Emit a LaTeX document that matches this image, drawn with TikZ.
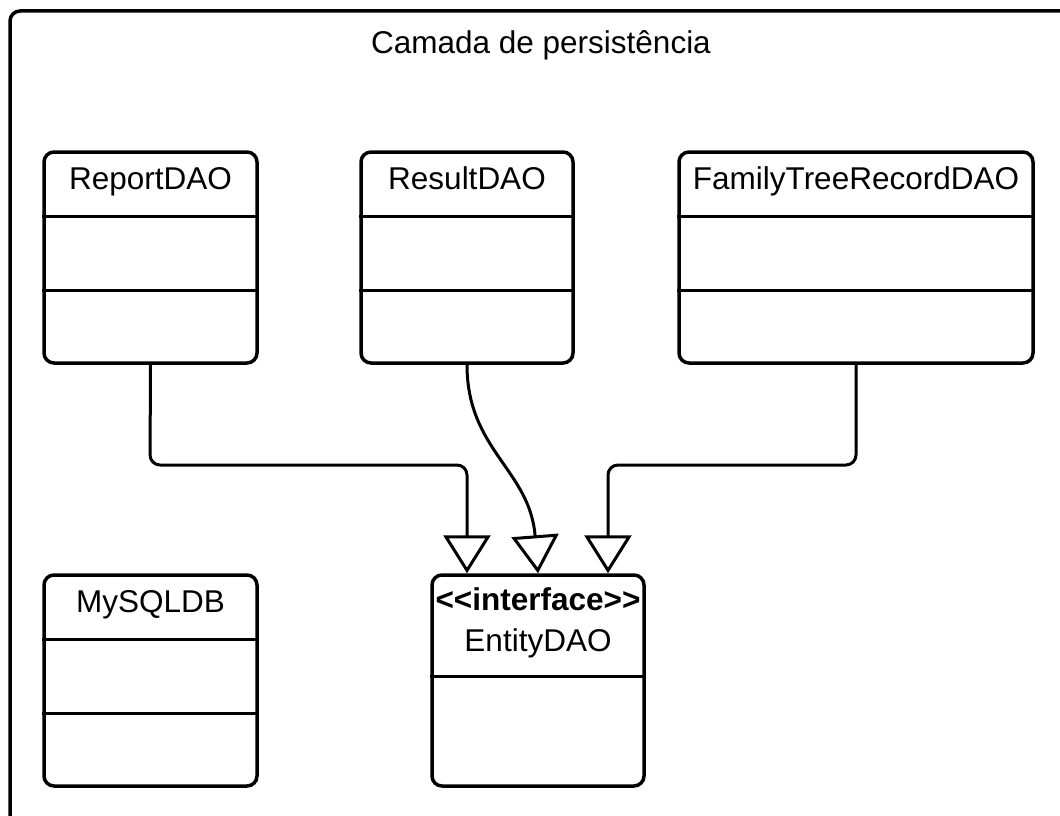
\documentclass[tikz,border=0pt]{standalone}
\usepackage{fontspec}
\setmainfont{Liberation Sans}
\usetikzlibrary{arrows.meta}
\begin{document}
\begin{tikzpicture}[x=1pt,y=-1pt,
  umlbox/.style={draw, line width=3.5pt, rounded corners=10pt, inner sep=0pt,
    minimum height=211pt},
  divider/.style={line width=3.5pt},
  conn/.style={line width=3pt,
    -{Triangle[open, length=38pt, width=47pt, line width=3pt]}},
  lbl/.style={anchor=base, inner sep=0pt, font=\fontsize{31.5}{36}\selectfont}
]
\useasboundingbox (0,0) rectangle (1060,816);
\begin{scope}
  \clip (0,0) rectangle (1060,816);
  % outer frame of the layer
  \draw[line width=3.5pt, rounded corners=10pt] (10,860) -- (10,11) -- (1100,11);
\end{scope}
\node[lbl] (title) at (541,54) {Camada de persistência};

% classes
\node[umlbox, minimum width=213pt] (rep) at (150.5,257.5) {};
\node[umlbox, minimum width=212pt] (res) at (467,257.5) {};
\node[umlbox, minimum width=354pt] (fam) at (856,257.5) {};
\node[umlbox, minimum width=213pt] (sql) at (150.5,680.5) {};
\node[umlbox, minimum width=212pt] (ent) at (538,680.5) {};

% class names
\node[lbl] (repname) at ([yshift=-39pt]rep.north) {ReportDAO};
\node[lbl] (resname) at ([yshift=-39pt]res.north) {ResultDAO};
\node[lbl] (famname) at ([yshift=-39pt]fam.north) {FamilyTreeRecordDAO};
\node[lbl] (sqlname) at ([yshift=-39pt]sql.north) {MySQLDB};
\node[lbl, font=\fontsize{31.5}{36}\selectfont\bfseries] (stereo) at ([yshift=-37pt]ent.north) {<{}<interface>{}>};
\node[lbl] (entname) at ([yshift=-78pt]ent.north) {EntityDAO};

% compartment lines
\foreach \b in {rep,res,fam,sql}{
  \draw[divider] ([yshift=-66pt]\b.north west) -- ([yshift=-66pt]\b.north east);
  \draw[divider] ([yshift=-140pt]\b.north west) -- ([yshift=-140pt]\b.north east);
}
\draw[divider] ([yshift=-103pt]ent.north west) -- ([yshift=-103pt]ent.north east);

% realisation connectors
\coordinate (ra) at (150,465);
\coordinate (rb) at (467,465);
\coordinate (fa) at (856,465);
\coordinate (fb) at (608,465);
\draw[conn, rounded corners=10pt] (rep.south) -- (ra) -- (rb) -- (467,0 |- ent.north);
\draw[conn, rounded corners=10pt] (fam.south) -- (fa) -- (fb) -- (608,0 |- ent.north);
\draw[conn] (res.south) .. controls (467,450) and (530,470) .. (538,0 |- ent.north);
\end{tikzpicture}
\end{document}
